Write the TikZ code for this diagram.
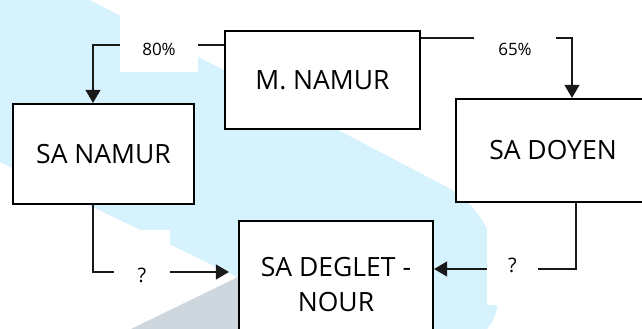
\documentclass[tikz,border=0pt]{standalone}
\usepackage{fontspec}
\setmainfont{Open Sans}
\usetikzlibrary{arrows.meta,calc}
\definecolor{bandblue}{RGB}{214,243,253}
\definecolor{bandgray}{RGB}{206,214,222}
\definecolor{linecol}{RGB}{25,25,25}
\tikzset{
  entity/.style={draw=black, line width=2.2pt, fill=white, inner sep=0pt,
    align=center, font=\fontsize{26.5}{35}\selectfont},
  conn/.style={draw=linecol, line width=1.2pt},
  tipped/.style={conn, -{Triangle[width=15pt,length=13pt]}},
  pct/.style={fill=white, inner sep=0pt, text depth=0pt, font=\fontsize{17}{20}\selectfont},
  qmark/.style={fill=white, inner sep=0pt, text depth=0pt, font=\fontsize{20}{24}\selectfont},
}
\begin{document}
\begin{tikzpicture}[x={(1pt,0)}, y={(0,-1pt)}]
\useasboundingbox (0,0) rectangle (642,329);
% background band shapes
\fill[bandblue] (0,0) -- (90,0) -- (450,188.6)
  .. controls (475,202) and (500,240) .. (500,275)
  .. controls (500,300) and (497,318) .. (487,329)
  -- (260,329) -- (260,288) -- (237,277) -- (0,162) -- cycle;
\fill[bandgray] (131,329) -- (238,277) -- (300,277) -- (300,329) -- cycle;
% entities
\node[entity, minimum width=195, minimum height=98] (mnamur) at (322.5,80) {M. NAMUR};
\node[entity, minimum width=181, minimum height=100] (sanamur) at (103.5,154) {SA NAMUR};
\node[entity, minimum width=194, minimum height=103] (sadoyen) at (553,150.5) {SA DOYEN};
\node[entity, minimum width=194, minimum height=128] (deglet) at (336,285) {SA DEGLET -\\NOUR};
% bend points
\coordinate (k1) at (93,45);
\coordinate (k2) at (572,38);
\coordinate (k3) at (93,272);
\coordinate (k4) at (576,269);
% connectors
\draw[tipped] (mnamur.west |- k1) -- (k1) -- (k1 |- sanamur.north);
\draw[tipped] (mnamur.east |- k2) -- (k2) -- (k2 |- sadoyen.north);
\draw[tipped] (k3 |- sanamur.south) -- (k3) -- ([xshift=-9pt]deglet.west |- k3);
\draw[tipped] (k4 |- sadoyen.south) -- (k4) -- (deglet.east |- k4);
% labels
\node[pct, minimum width=78, minimum height=62, text height=28.1pt] (l80) at (159,41) {80\%};
\node[pct, minimum width=82, minimum height=62, text height=18.1pt] (l65) at (515,46) {65\%};
\node[qmark, minimum width=56, minimum height=75, text height=29.3pt] (lq1) at (142,267.5) {?};
\node[qmark, minimum width=51, minimum height=83, text height=17.3pt] (lq2) at (512.5,263.5) {?};
\end{tikzpicture}
\end{document}
